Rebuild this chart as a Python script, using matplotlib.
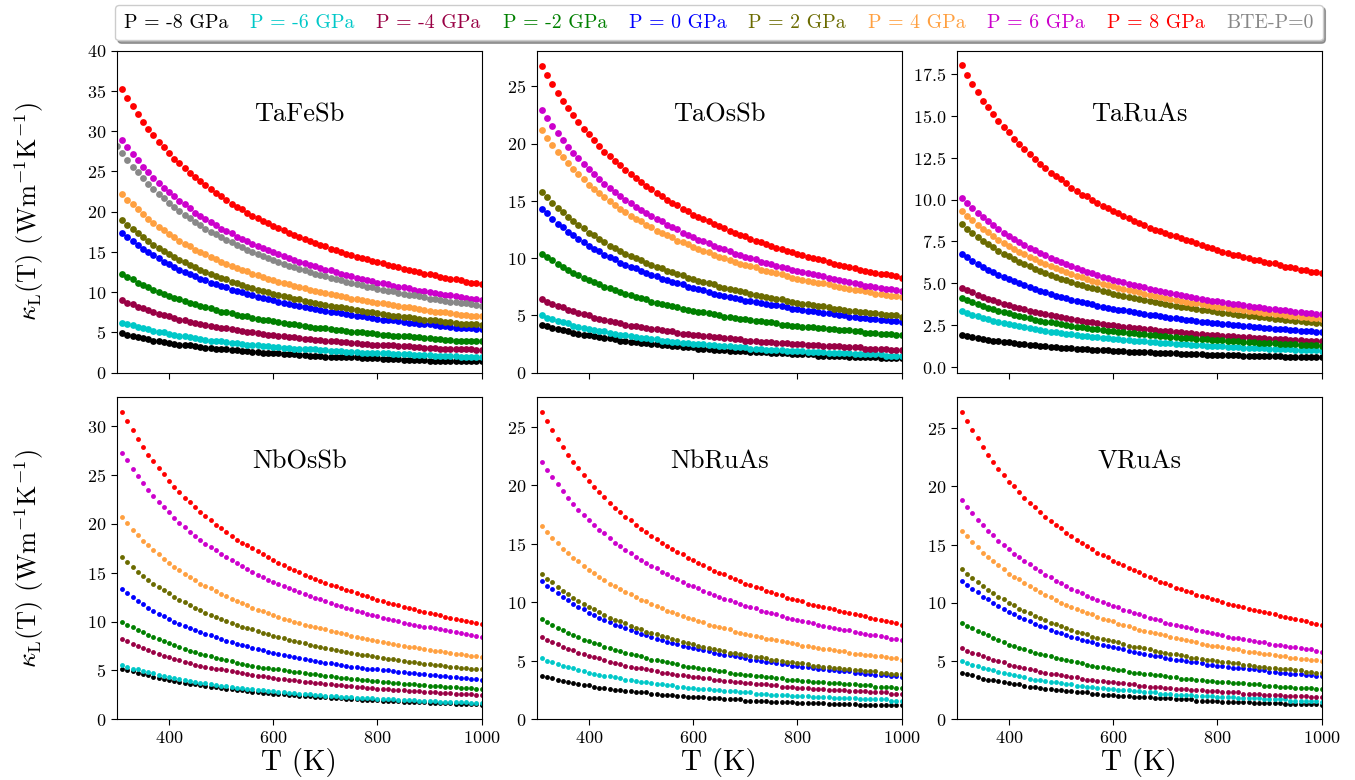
import matplotlib
matplotlib.use("Agg")
import matplotlib.pyplot as plt
from matplotlib.lines import Line2D
import numpy as np

plt.rcParams['font.family'] = ['cmr10', 'DejaVu Serif']
plt.rcParams['mathtext.fontset'] = 'cm'
plt.rcParams['axes.formatter.use_mathtext'] = True
plt.rcParams['axes.unicode_minus'] = False

# ---------------- data ----------------
temps = np.arange(310, 1001, 10)        # K
temps_bte = np.arange(300, 1001, 10)    # K (BTE reference)

legend_labels = ["P = -8 GPa", "P = -6 GPa", "P = -4 GPa", "P = -2 GPa", "P = 0 GPa",
                 "P = 2 GPa", "P = 4 GPa", "P = 6 GPa", "P = 8 GPa", "BTE-P=0"]
series_colors = ["black", "#00c8c8", "#990044", "#008000", "#0000ff",
                 "#6b6b00", "#ffa040", "#cc00cc", "#ff0000", "#888888"]

# TaFeSb
tafesb_m8 = [4.9,4.7,4.6,4.4,4.3,4.2,4.0,3.9,3.8,3.7, 3.6,3.5,3.5,3.4,3.3,3.2,3.1,3.1,3.0,2.9,
             2.9,2.8,2.8,2.7,2.7,2.6,2.6,2.5,2.5,2.4, 2.4,2.3,2.3,2.3,2.2,2.2,2.1,2.1,2.1,2.0,
             2.0,2.0,2.0,1.9,1.9,1.9,1.8,1.8,1.8,1.8, 1.7,1.7,1.7,1.7,1.6,1.6,1.6,1.6,1.6,1.5,
             1.5,1.5,1.5,1.5,1.5,1.4,1.4,1.4,1.4,1.4]
tafesb_m6 = [6.2,6.1,5.9,5.7,5.5,5.4,5.2,5.1,5.0,4.8, 4.7,4.6,4.5,4.4,4.3,4.2,4.1,4.0,4.0,3.9,
             3.8,3.7,3.7,3.6,3.5,3.5,3.4,3.3,3.3,3.2, 3.2,3.1,3.1,3.0,3.0,2.9,2.9,2.9,2.8,2.8,
             2.7,2.7,2.7,2.6,2.6,2.6,2.5,2.5,2.5,2.4, 2.4,2.4,2.3,2.3,2.3,2.3,2.2,2.2,2.2,2.2,
             2.1,2.1,2.1,2.1,2.1,2.0,2.0,2.0,2.0,2.0]
tafesb_m4 = [9.0,8.7,8.5,8.2,8.0,7.8,7.5,7.3,7.2,7.0, 6.8,6.6,6.5,6.3,6.2,6.1,5.9,5.8,5.7,5.6,
             5.5,5.4,5.3,5.2,5.1,5.0,4.9,4.8,4.7,4.7, 4.6,4.5,4.4,4.4,4.3,4.2,4.2,4.1,4.1,4.0,
             3.9,3.9,3.8,3.8,3.7,3.7,3.6,3.6,3.5,3.5, 3.5,3.4,3.4,3.3,3.3,3.3,3.2,3.2,3.1,3.1,
             3.1,3.0,3.0,3.0,2.9,2.9,2.9,2.9,2.8,2.8]
tafesb_m2 = [12.3,11.9,11.6,11.2,10.9,10.6,10.3,10.0,9.8,9.5, 9.3,9.1,8.9,8.7,8.5,8.3,8.1,8.0,7.8,7.6,
             7.5,7.4,7.2,7.1,7.0,6.8,6.7,6.6,6.5,6.4, 6.3,6.2,6.1,6.0,5.9,5.8,5.7,5.6,5.6,5.5,
             5.4,5.3,5.3,5.2,5.1,5.1,5.0,4.9,4.9,4.8, 4.7,4.7,4.6,4.6,4.5,4.5,4.4,4.4,4.3,4.3,
             4.2,4.2,4.1,4.1,4.0,4.0,4.0,3.9,3.9,3.9]
tafesb_p0 = [17.4,16.9,16.3,15.9,15.4,15.0,14.6,14.2,13.8,13.5, 13.1,12.8,12.5,12.2,12.0,11.7,11.5,11.2,11.0,10.8,
             10.6,10.3,10.2,10.0,9.8,9.6,9.4,9.3,9.1,9.0, 8.8,8.7,8.5,8.4,8.3,8.1,8.0,7.9,7.8,7.7,
             7.6,7.5,7.4,7.3,7.2,7.1,7.0,6.9,6.8,6.7, 6.6,6.5,6.5,6.4,6.3,6.2,6.2,6.1,6.0,6.0,
             5.9,5.8,5.8,5.7,5.6,5.6,5.5,5.5,5.4,5.4]
tafesb_p2 = [19.0,18.4,17.9,17.3,16.8,16.4,15.9,15.5,15.1,14.7, 14.4,14.0,13.7,13.4,13.1,12.8,12.5,12.3,12.0,11.8,
             11.6,11.3,11.1,10.9,10.7,10.5,10.3,10.2,10.0,9.8, 9.7,9.5,9.4,9.2,9.1,8.9,8.8,8.7,8.5,8.4,
             8.3,8.2,8.1,8.0,7.9,7.8,7.7,7.6,7.5,7.4, 7.3,7.2,7.1,7.0,6.9,6.9,6.8,6.7,6.6,6.6,
             6.5,6.4,6.3,6.3,6.2,6.1,6.1,6.0,6.0,5.9]
tafesb_p4 = [22.2,21.5,20.9,20.3,19.7,19.1,18.6,18.1,17.7,17.2, 16.8,16.4,16.0,15.7,15.3,15.0,14.7,14.4,14.1,13.8,
             13.5,13.3,13.0,12.8,12.6,12.3,12.1,11.9,11.7,11.5, 11.3,11.2,11.0,10.8,10.6,10.5,10.3,10.2,10.0,9.9,
             9.8,9.6,9.5,9.4,9.2,9.1,9.0,8.9,8.8,8.7, 8.6,8.5,8.4,8.3,8.2,8.1,8.0,7.9,7.8,7.7,
             7.6,7.5,7.5,7.4,7.3,7.2,7.2,7.1,7.0,7.0]
tafesb_p6 = [28.9,28.0,27.2,26.4,25.6,24.9,24.2,23.6,23.0,22.4, 21.9,21.3,20.9,20.4,19.9,19.5,19.1,18.7,18.3,17.9,
             17.6,17.3,16.9,16.6,16.3,16.0,15.7,15.5,15.2,15.0, 14.7,14.5,14.3,14.0,13.8,13.6,13.4,13.2,13.0,12.8,
             12.7,12.5,12.3,12.1,12.0,11.8,11.7,11.5,11.4,11.2, 11.1,11.0,10.8,10.7,10.6,10.5,10.3,10.2,10.1,10.0,
             9.9,9.8,9.7,9.6,9.5,9.4,9.3,9.2,9.1,9.0]
tafesb_p8 = [35.2,34.1,33.1,32.1,31.2,30.3,29.5,28.7,28.0,27.3, 26.6,26.0,25.4,24.8,24.3,23.8,23.3,22.8,22.3,21.9,
             21.4,21.0,20.6,20.3,19.9,19.5,19.2,18.9,18.6,18.2, 18.0,17.7,17.4,17.1,16.9,16.6,16.4,16.1,15.9,15.7,
             15.4,15.2,15.0,14.8,14.6,14.4,14.2,14.1,13.9,13.7, 13.6,13.4,13.2,13.1,12.9,12.8,12.6,12.5,12.3,12.2,
             12.1,11.9,11.8,11.7,11.6,11.5,11.3,11.2,11.1,11.0]
tafesb_bte = [28.2, 27.3,26.4,25.6,24.9,24.2,23.5,22.8,22.2,21.7,21.1, 20.6,20.1,19.6,19.2,18.7,18.3,17.9,17.5,17.2,16.8,
              16.5,16.2,15.9,15.6,15.3,15.0,14.7,14.5,14.2,14.0, 13.8,13.5,13.3,13.1,12.9,12.7,12.5,12.3,12.1,12.0,
              11.8,11.6,11.5,11.3,11.2,11.0,10.9,10.7,10.6,10.4, 10.3,10.2,10.1,9.9,9.8,9.7,9.6,9.5,9.4,9.2,
              9.1,9.0,8.9,8.8,8.8,8.7,8.6,8.5,8.4,8.3]

# TaOsSb
taossb_m8 = [4.2,4.1,3.9,3.8,3.7,3.6,3.5,3.4,3.3,3.3, 3.2,3.1,3.0,3.0,2.9,2.8,2.8,2.7,2.7,2.6,
             2.6,2.5,2.5,2.4,2.4,2.3,2.3,2.2,2.2,2.2, 2.1,2.1,2.1,2.0,2.0,2.0,1.9,1.9,1.9,1.9,
             1.8,1.8,1.8,1.8,1.7,1.7,1.7,1.7,1.6,1.6, 1.6,1.6,1.6,1.5,1.5,1.5,1.5,1.5,1.5,1.4,
             1.4,1.4,1.4,1.4,1.4,1.3,1.3,1.3,1.3,1.3]
taossb_m6 = [5.0,4.8,4.7,4.5,4.4,4.3,4.1,4.0,3.9,3.8, 3.7,3.6,3.6,3.5,3.4,3.3,3.3,3.2,3.1,3.0,
             3.0,2.9,2.9,2.8,2.8,2.7,2.7,2.6,2.6,2.5, 2.5,2.5,2.4,2.4,2.3,2.3,2.3,2.2,2.2,2.2,
             2.1,2.1,2.1,2.0,2.0,2.0,2.0,1.9,1.9,1.9, 1.9,1.8,1.8,1.8,1.8,1.7,1.7,1.7,1.7,1.7,
             1.6,1.6,1.6,1.6,1.6,1.6,1.5,1.5,1.5,1.5]
taossb_m4 = [6.4,6.2,6.0,5.8,5.7,5.5,5.4,5.2,5.1,5.0, 4.8,4.7,4.6,4.5,4.4,4.3,4.2,4.1,4.1,4.0,
             3.9,3.8,3.8,3.7,3.6,3.6,3.5,3.4,3.4,3.3, 3.3,3.2,3.2,3.1,3.1,3.0,3.0,2.9,2.9,2.8,
             2.8,2.8,2.7,2.7,2.7,2.6,2.6,2.6,2.5,2.5, 2.5,2.4,2.4,2.4,2.3,2.3,2.3,2.3,2.2,2.2,
             2.2,2.2,2.1,2.1,2.1,2.1,2.1,2.0,2.0,2.0]
taossb_m2 = [10.4,10.1,9.8,9.5,9.2,9.0,8.7,8.5,8.3,8.1, 7.9,7.7,7.5,7.4,7.2,7.0,6.9,6.8,6.6,6.5,
             6.4,6.2,6.1,6.0,5.9,5.8,5.7,5.6,5.5,5.4, 5.3,5.3,5.2,5.1,5.0,4.9,4.9,4.8,4.7,4.7,
             4.6,4.5,4.5,4.4,4.4,4.3,4.2,4.2,4.1,4.1, 4.0,4.0,4.0,3.9,3.9,3.8,3.8,3.7,3.7,3.7,
             3.6,3.6,3.5,3.5,3.5,3.4,3.4,3.4,3.3,3.3]
taossb_p0 = [14.3,13.9,13.4,13.0,12.7,12.3,12.0,11.7,11.4,11.1, 10.8,10.6,10.3,10.1,9.9,9.6,9.4,9.2,9.1,8.9,
             8.7,8.5,8.4,8.2,8.1,7.9,7.8,7.7,7.5,7.4, 7.3,7.2,7.0,6.9,6.8,6.7,6.6,6.5,6.4,6.3,
             6.3,6.2,6.1,6.0,5.9,5.9,5.8,5.7,5.6,5.6, 5.5,5.4,5.4,5.3,5.2,5.2,5.1,5.0,5.0,4.9,
             4.9,4.8,4.8,4.7,4.7,4.6,4.6,4.5,4.5,4.4]
taossb_p2 = [15.8,15.3,14.8,14.4,14.0,13.6,13.2,12.9,12.6,12.2, 12.0,11.7,11.4,11.1,10.9,10.6,10.4,10.2,10.0,9.8,
             9.6,9.4,9.2,9.1,8.9,8.8,8.6,8.5,8.3,8.2, 8.0,7.9,7.8,7.7,7.5,7.4,7.3,7.2,7.1,7.0,
             6.9,6.8,6.7,6.6,6.5,6.4,6.4,6.3,6.2,6.1, 6.0,6.0,5.9,5.8,5.8,5.7,5.6,5.6,5.5,5.4,
             5.4,5.3,5.3,5.2,5.2,5.1,5.0,5.0,5.0,4.9]
taossb_p4 = [21.2,20.5,19.9,19.3,18.8,18.3,17.8,17.3,16.9,16.4, 16.0,15.7,15.3,15.0,14.6,14.3,14.0,13.7,13.4,13.2,
             12.9,12.7,12.4,12.2,12.0,11.8,11.5,11.4,11.2,11.0, 10.8,10.6,10.5,10.3,10.1,10.0,9.8,9.7,9.5,9.4,
             9.3,9.2,9.0,8.9,8.8,8.7,8.6,8.4,8.3,8.2, 8.1,8.0,7.9,7.8,7.8,7.7,7.6,7.5,7.4,7.3,
             7.2,7.2,7.1,7.0,6.9,6.9,6.8,6.7,6.7,6.6]
taossb_p6 = [22.9,22.2,21.5,20.9,20.3,19.7,19.2,18.7,18.2,17.8, 17.3,16.9,16.5,16.1,15.8,15.4,15.1,14.8,14.5,14.2,
             13.9,13.7,13.4,13.2,12.9,12.7,12.5,12.2,12.0,11.8, 11.6,11.5,11.3,11.1,10.9,10.8,10.6,10.4,10.3,10.1,
             10.0,9.9,9.7,9.6,9.5,9.3,9.2,9.1,9.0,8.9, 8.8,8.7,8.6,8.5,8.4,8.3,8.2,8.1,8.0,7.9,
             7.8,7.7,7.6,7.6,7.5,7.4,7.3,7.3,7.2,7.1]
taossb_p8 = [26.8,26.0,25.2,24.4,23.7,23.1,22.5,21.9,21.3,20.8, 20.3,19.8,19.3,18.9,18.5,18.1,17.7,17.3,17.0,16.6,
             16.3,16.0,15.7,15.4,15.1,14.8,14.6,14.3,14.1,13.8, 13.6,13.4,13.2,13.0,12.8,12.6,12.4,12.2,12.0,11.9,
             11.7,11.5,11.4,11.2,11.1,10.9,10.8,10.6,10.5,10.4, 10.3,10.1,10.0,9.9,9.8,9.7,9.5,9.4,9.3,9.2,
             9.1,9.0,8.9,8.8,8.7,8.6,8.6,8.5,8.4,8.3]

# TaRuAs
taruas_m8 = [1.90,1.84,1.79,1.73,1.68,1.64,1.59,1.55,1.51,1.48, 1.44,1.41,1.37,1.34,1.31,1.29,1.26,1.23,1.21,1.18,
             1.16,1.14,1.12,1.10,1.08,1.06,1.04,1.02,1.01,0.99, 0.97,0.96,0.94,0.93,0.91,0.90,0.89,0.87,0.86,0.85,
             0.84,0.83,0.82,0.81,0.79,0.78,0.77,0.76,0.76,0.75, 0.74,0.73,0.72,0.71,0.70,0.70,0.69,0.68,0.67,0.66,
             0.66,0.65,0.64,0.64,0.63,0.62,0.62,0.61,0.61,0.60]
taruas_m6 = [3.33,3.22,3.13,3.03,2.94,2.86,2.78,2.71,2.64,2.57, 2.51,2.45,2.39,2.33,2.28,2.23,2.18,2.13,2.09,2.05,
             2.01,1.97,1.93,1.89,1.86,1.82,1.79,1.76,1.73,1.70, 1.67,1.64,1.61,1.59,1.56,1.54,1.52,1.49,1.47,1.45,
             1.43,1.41,1.39,1.37,1.35,1.33,1.31,1.30,1.28,1.26, 1.25,1.23,1.21,1.20,1.18,1.17,1.16,1.14,1.13,1.12,
             1.10,1.09,1.08,1.07,1.06,1.04,1.03,1.02,1.01,1.00]
taruas_m4 = [4.74,4.60,4.46,4.33,4.21,4.10,3.99,3.89,3.79,3.70, 3.61,3.53,3.45,3.37,3.30,3.23,3.17,3.10,3.04,2.98,
             2.93,2.87,2.82,2.77,2.72,2.68,2.63,2.59,2.55,2.51, 2.47,2.43,2.39,2.36,2.32,2.29,2.26,2.22,2.19,2.16,
             2.14,2.11,2.08,2.05,2.03,2.00,1.98,1.95,1.93,1.91, 1.89,1.86,1.84,1.82,1.80,1.78,1.76,1.75,1.73,1.71,
             1.69,1.67,1.66,1.64,1.63,1.61,1.59,1.58,1.56,1.55]
taruas_m2 = [4.13,4.00,3.88,3.77,3.66,3.56,3.47,3.37,3.29,3.21, 3.13,3.06,2.99,2.92,2.85,2.79,2.73,2.68,2.62,2.57,
             2.52,2.47,2.43,2.38,2.34,2.30,2.26,2.22,2.18,2.15, 2.11,2.08,2.05,2.02,1.98,1.96,1.93,1.90,1.87,1.85,
             1.82,1.79,1.77,1.75,1.72,1.70,1.68,1.66,1.64,1.62, 1.60,1.58,1.56,1.54,1.52,1.51,1.49,1.47,1.46,1.44,
             1.43,1.41,1.40,1.38,1.37,1.35,1.34,1.33,1.31,1.30]
taruas_p0 = [6.77,6.56,6.36,6.17,6.00,5.83,5.67,5.52,5.38,5.25, 5.12,5.00,4.88,4.77,4.66,4.56,4.47,4.37,4.28,4.20,
             4.12,4.04,3.96,3.89,3.82,3.75,3.68,3.62,3.56,3.50, 3.44,3.39,3.33,3.28,3.23,3.18,3.13,3.09,3.04,3.00,
             2.96,2.92,2.88,2.84,2.80,2.76,2.73,2.69,2.66,2.62, 2.59,2.56,2.53,2.50,2.47,2.44,2.41,2.39,2.36,2.33,
             2.31,2.28,2.26,2.23,2.21,2.19,2.17,2.14,2.12,2.10]
taruas_p2 = [8.53,8.26,8.01,7.78,7.55,7.34,7.15,6.96,6.78,6.61, 6.45,6.29,6.15,6.01,5.87,5.75,5.62,5.51,5.39,5.29,
             5.18,5.08,4.99,4.89,4.81,4.72,4.64,4.56,4.48,4.40, 4.33,4.26,4.19,4.13,4.07,4.00,3.94,3.89,3.83,3.77,
             3.72,3.67,3.62,3.57,3.52,3.48,3.43,3.39,3.34,3.30, 3.26,3.22,3.18,3.14,3.11,3.07,3.04,3.00,2.97,2.93,
             2.90,2.87,2.84,2.81,2.78,2.75,2.72,2.69,2.67,2.64]
taruas_p4 = [9.33,9.04,8.77,8.51,8.27,8.04,7.82,7.61,7.42,7.23, 7.06,6.89,6.73,6.58,6.43,6.29,6.16,6.03,5.91,5.79,
             5.68,5.57,5.46,5.36,5.26,5.17,5.08,4.99,4.91,4.83, 4.75,4.67,4.60,4.52,4.46,4.39,4.32,4.26,4.20,4.14,
             4.08,4.02,3.97,3.92,3.86,3.81,3.76,3.71,3.67,3.62, 3.58,3.53,3.49,3.45,3.41,3.37,3.33,3.29,3.26,3.22,
             3.19,3.15,3.12,3.08,3.05,3.02,2.99,2.96,2.93,2.90]
taruas_p6 = [10.10,9.79,9.49,9.21,8.95,8.70,8.47,8.24,8.03,7.83, 7.64,7.46,7.29,7.12,6.97,6.82,6.67,6.53,6.40,6.27,
             6.15,6.03,5.92,5.81,5.70,5.60,5.51,5.41,5.32,5.23, 5.15,5.06,4.98,4.91,4.83,4.76,4.69,4.62,4.55,4.49,
             4.43,4.36,4.31,4.25,4.19,4.14,4.08,4.03,3.98,3.93, 3.88,3.84,3.79,3.75,3.70,3.66,3.62,3.58,3.54,3.50,
             3.46,3.42,3.39,3.35,3.32,3.28,3.25,3.21,3.18,3.15]
taruas_p8 = [18.0,17.4,16.9,16.4,15.9,15.5,15.1,14.7,14.3,14.0, 13.6,13.3,13.0,12.7,12.4,12.1,11.9,11.6,11.4,11.2,
             11.0,10.7,10.5,10.3,10.2,10.0,9.8,9.6,9.5,9.3, 9.2,9.0,8.9,8.7,8.6,8.5,8.3,8.2,8.1,8.0,
             7.9,7.8,7.7,7.6,7.5,7.4,7.3,7.2,7.1,7.0, 6.9,6.8,6.7,6.7,6.6,6.5,6.4,6.4,6.3,6.2,
             6.2,6.1,6.0,6.0,5.9,5.8,5.8,5.7,5.7,5.6]

# NbOsSb
nbossb_m8 = [5.2,5.0,4.9,4.7,4.6,4.5,4.3,4.2,4.1,4.0, 3.9,3.8,3.7,3.6,3.6,3.5,3.4,3.3,3.3,3.2,
             3.1,3.1,3.0,3.0,2.9,2.8,2.8,2.7,2.7,2.6, 2.6,2.6,2.5,2.5,2.4,2.4,2.4,2.3,2.3,2.3,
             2.2,2.2,2.2,2.1,2.1,2.1,2.0,2.0,2.0,2.0, 1.9,1.9,1.9,1.9,1.8,1.8,1.8,1.8,1.8,1.7,
             1.7,1.7,1.7,1.7,1.6,1.6,1.6,1.6,1.6,1.5]
nbossb_m6 = [5.6,5.4,5.2,5.1,4.9,4.8,4.7,4.5,4.4,4.3, 4.2,4.1,4.0,3.9,3.8,3.7,3.7,3.6,3.5,3.4,
             3.4,3.3,3.2,3.2,3.1,3.1,3.0,3.0,2.9,2.9, 2.8,2.8,2.7,2.7,2.6,2.6,2.6,2.5,2.5,2.4,
             2.4,2.4,2.3,2.3,2.3,2.2,2.2,2.2,2.2,2.1, 2.1,2.1,2.1,2.0,2.0,2.0,2.0,1.9,1.9,1.9,
             1.9,1.8,1.8,1.8,1.8,1.8,1.8,1.7,1.7,1.7]
nbossb_m4 = [8.2,8.0,7.7,7.5,7.3,7.1,6.9,6.7,6.5,6.4, 6.2,6.1,5.9,5.8,5.6,5.5,5.4,5.3,5.2,5.1,
             5.0,4.9,4.8,4.7,4.6,4.5,4.4,4.4,4.3,4.2, 4.1,4.1,4.0,4.0,3.9,3.8,3.8,3.7,3.7,3.6,
             3.6,3.5,3.5,3.4,3.4,3.3,3.3,3.2,3.2,3.1, 3.1,3.1,3.0,3.0,3.0,2.9,2.9,2.9,2.8,2.8,
             2.8,2.7,2.7,2.7,2.6,2.6,2.6,2.6,2.5,2.5]
nbossb_m2 = [10.0,9.7,9.4,9.1,8.9,8.6,8.4,8.2,8.0,7.8, 7.6,7.4,7.2,7.0,6.9,6.7,6.6,6.5,6.3,6.2,
             6.1,6.0,5.8,5.7,5.6,5.5,5.4,5.3,5.3,5.2, 5.1,5.0,4.9,4.8,4.8,4.7,4.6,4.6,4.5,4.4,
             4.4,4.3,4.2,4.2,4.1,4.1,4.0,4.0,3.9,3.9, 3.8,3.8,3.7,3.7,3.6,3.6,3.6,3.5,3.5,3.4,
             3.4,3.4,3.3,3.3,3.3,3.2,3.2,3.2,3.1,3.1]
nbossb_p0 = [13.3,12.9,12.5,12.1,11.8,11.4,11.1,10.8,10.6,10.3, 10.0,9.8,9.6,9.3,9.1,8.9,8.7,8.6,8.4,8.2,
             8.0,7.9,7.7,7.6,7.5,7.3,7.2,7.1,6.9,6.8, 6.7,6.6,6.5,6.4,6.3,6.2,6.1,6.0,5.9,5.8,
             5.8,5.7,5.6,5.5,5.4,5.4,5.3,5.2,5.2,5.1, 5.0,5.0,4.9,4.8,4.8,4.7,4.7,4.6,4.6,4.5,
             4.5,4.4,4.4,4.3,4.3,4.2,4.2,4.1,4.1,4.0]
nbossb_p2 = [16.6,16.1,15.6,15.1,14.7,14.3,13.9,13.5,13.2,12.9, 12.5,12.2,12.0,11.7,11.4,11.2,10.9,10.7,10.5,10.3,
             10.1,9.9,9.7,9.5,9.3,9.2,9.0,8.8,8.7,8.5, 8.4,8.3,8.1,8.0,7.9,7.8,7.6,7.5,7.4,7.3,
             7.2,7.1,7.0,6.9,6.8,6.7,6.6,6.6,6.5,6.4, 6.3,6.2,6.2,6.1,6.0,5.9,5.9,5.8,5.7,5.7,
             5.6,5.6,5.5,5.4,5.4,5.3,5.3,5.2,5.2,5.1]
nbossb_p4 = [20.7,20.1,19.4,18.9,18.3,17.8,17.3,16.9,16.4,16.0, 15.6,15.3,14.9,14.6,14.3,13.9,13.6,13.4,13.1,12.8,
             12.6,12.3,12.1,11.9,11.7,11.4,11.2,11.1,10.9,10.7, 10.5,10.3,10.2,10.0,9.9,9.7,9.6,9.4,9.3,9.2,
             9.0,8.9,8.8,8.7,8.5,8.4,8.3,8.2,8.1,8.0, 7.9,7.8,7.7,7.6,7.5,7.4,7.4,7.3,7.2,7.1,
             7.0,7.0,6.9,6.8,6.7,6.7,6.6,6.5,6.5,6.4]
nbossb_p6 = [27.3,26.5,25.6,24.9,24.2,23.5,22.9,22.3,21.7,21.2, 20.6,20.1,19.7,19.2,18.8,18.4,18.0,17.6,17.3,16.9,
             16.6,16.3,16.0,15.7,15.4,15.1,14.8,14.6,14.3,14.1, 13.9,13.6,13.4,13.2,13.0,12.8,12.6,12.4,12.3,12.1,
             11.9,11.7,11.6,11.4,11.3,11.1,11.0,10.8,10.7,10.6, 10.4,10.3,10.2,10.1,9.9,9.8,9.7,9.6,9.5,9.4,
             9.3,9.2,9.1,9.0,8.9,8.8,8.7,8.6,8.5,8.4]
nbossb_p8 = [31.5,30.5,29.6,28.7,27.9,27.1,26.4,25.7,25.1,24.4, 23.8,23.3,22.7,22.2,21.7,21.2,20.8,20.4,19.9,19.6,
             19.2,18.8,18.4,18.1,17.8,17.5,17.2,16.9,16.6,16.3, 16.0,15.8,15.5,15.3,15.1,14.8,14.6,14.4,14.2,14.0,
             13.8,13.6,13.4,13.2,13.1,12.9,12.7,12.6,12.4,12.2, 12.1,11.9,11.8,11.7,11.5,11.4,11.3,11.1,11.0,10.9,
             10.8,10.7,10.5,10.4,10.3,10.2,10.1,10.0,9.9,9.8]

# NbRuAs
nbruas_m8 = [3.7,3.6,3.5,3.4,3.3,3.2,3.1,3.0,2.9,2.9, 2.8,2.7,2.7,2.6,2.5,2.5,2.4,2.4,2.3,2.3,
             2.3,2.2,2.2,2.1,2.1,2.1,2.0,2.0,1.9,1.9, 1.9,1.9,1.8,1.8,1.8,1.7,1.7,1.7,1.7,1.6,
             1.6,1.6,1.6,1.6,1.5,1.5,1.5,1.5,1.5,1.4, 1.4,1.4,1.4,1.4,1.4,1.3,1.3,1.3,1.3,1.3,
             1.3,1.2,1.2,1.2,1.2,1.2,1.2,1.2,1.2,1.2]
nbruas_m6 = [5.2,5.0,4.9,4.7,4.6,4.5,4.4,4.2,4.1,4.0, 3.9,3.8,3.7,3.7,3.6,3.5,3.4,3.4,3.3,3.2,
             3.2,3.1,3.0,3.0,2.9,2.9,2.8,2.8,2.7,2.7, 2.6,2.6,2.6,2.5,2.5,2.4,2.4,2.4,2.3,2.3,
             2.3,2.2,2.2,2.2,2.1,2.1,2.1,2.1,2.0,2.0, 2.0,2.0,1.9,1.9,1.9,1.9,1.8,1.8,1.8,1.8,
             1.8,1.7,1.7,1.7,1.7,1.7,1.7,1.6,1.6,1.6]
nbruas_m4 = [7.0,6.8,6.6,6.4,6.2,6.0,5.9,5.7,5.6,5.4, 5.3,5.2,5.1,4.9,4.8,4.7,4.6,4.5,4.4,4.4,
             4.3,4.2,4.1,4.0,4.0,3.9,3.8,3.8,3.7,3.6, 3.6,3.5,3.5,3.4,3.4,3.3,3.3,3.2,3.2,3.1,
             3.1,3.0,3.0,3.0,2.9,2.9,2.8,2.8,2.8,2.7, 2.7,2.7,2.6,2.6,2.6,2.5,2.5,2.5,2.5,2.4,
             2.4,2.4,2.4,2.3,2.3,2.3,2.3,2.2,2.2,2.2]
nbruas_m2 = [8.6,8.3,8.1,7.8,7.6,7.4,7.2,7.0,6.8,6.7, 6.5,6.4,6.2,6.1,5.9,5.8,5.7,5.6,5.5,5.4,
             5.2,5.1,5.1,5.0,4.9,4.8,4.7,4.6,4.5,4.5, 4.4,4.3,4.3,4.2,4.1,4.1,4.0,3.9,3.9,3.8,
             3.8,3.7,3.7,3.6,3.6,3.5,3.5,3.4,3.4,3.4, 3.3,3.3,3.2,3.2,3.2,3.1,3.1,3.1,3.0,3.0,
             3.0,2.9,2.9,2.9,2.8,2.8,2.8,2.8,2.7,2.7]
nbruas_p0 = [11.8,11.4,11.1,10.8,10.5,10.2,9.9,9.6,9.4,9.1, 8.9,8.7,8.5,8.3,8.1,8.0,7.8,7.6,7.5,7.3,
             7.2,7.0,6.9,6.8,6.6,6.5,6.4,6.3,6.2,6.1, 6.0,5.9,5.8,5.7,5.6,5.5,5.5,5.4,5.3,5.2,
             5.1,5.1,5.0,4.9,4.9,4.8,4.7,4.7,4.6,4.6, 4.5,4.5,4.4,4.3,4.3,4.2,4.2,4.1,4.1,4.1,
             4.0,4.0,3.9,3.9,3.8,3.8,3.8,3.7,3.7,3.6]
nbruas_p2 = [12.4,12.0,11.7,11.3,11.0,10.7,10.4,10.1,9.9,9.6, 9.4,9.2,8.9,8.7,8.5,8.4,8.2,8.0,7.8,7.7,
             7.5,7.4,7.3,7.1,7.0,6.9,6.8,6.6,6.5,6.4, 6.3,6.2,6.1,6.0,5.9,5.8,5.7,5.7,5.6,5.5,
             5.4,5.3,5.3,5.2,5.1,5.1,5.0,4.9,4.9,4.8, 4.8,4.7,4.6,4.6,4.5,4.5,4.4,4.4,4.3,4.3,
             4.2,4.2,4.1,4.1,4.1,4.0,4.0,3.9,3.9,3.9]
nbruas_p4 = [16.5,16.0,15.5,15.1,14.6,14.2,13.8,13.5,13.1,12.8, 12.5,12.2,11.9,11.6,11.4,11.1,10.9,10.7,10.5,10.2,
             10.1,9.9,9.7,9.5,9.3,9.2,9.0,8.8,8.7,8.6, 8.4,8.3,8.1,8.0,7.9,7.8,7.7,7.5,7.4,7.3,
             7.2,7.1,7.0,6.9,6.9,6.8,6.7,6.6,6.5,6.4, 6.3,6.3,6.2,6.1,6.0,6.0,5.9,5.8,5.8,5.7,
             5.6,5.6,5.5,5.5,5.4,5.4,5.3,5.2,5.2,5.1]
nbruas_p6 = [22.0,21.3,20.7,20.1,19.5,18.9,18.4,17.9,17.5,17.0, 16.6,16.2,15.9,15.5,15.1,14.8,14.5,14.2,13.9,13.6,
             13.4,13.1,12.9,12.6,12.4,12.2,12.0,11.7,11.5,11.4, 11.2,11.0,10.8,10.6,10.5,10.3,10.2,10.0,9.9,9.7,
             9.6,9.5,9.3,9.2,9.1,9.0,8.8,8.7,8.6,8.5, 8.4,8.3,8.2,8.1,8.0,7.9,7.8,7.7,7.6,7.6,
             7.5,7.4,7.3,7.2,7.2,7.1,7.0,6.9,6.9,6.8]
nbruas_p8 = [26.3,25.5,24.7,24.0,23.3,22.6,22.0,21.5,20.9,20.4, 19.9,19.4,19.0,18.5,18.1,17.7,17.3,17.0,16.6,16.3,
             16.0,15.7,15.4,15.1,14.8,14.6,14.3,14.1,13.8,13.6, 13.4,13.2,12.9,12.7,12.5,12.4,12.2,12.0,11.8,11.6,
             11.5,11.3,11.2,11.0,10.9,10.7,10.6,10.4,10.3,10.2, 10.1,9.9,9.8,9.7,9.6,9.5,9.4,9.3,9.2,9.1,
             9.0,8.9,8.8,8.7,8.6,8.5,8.4,8.3,8.2,8.1]

# VRuAs
vruas_m8 = [4.0,3.9,3.8,3.6,3.5,3.4,3.4,3.3,3.2,3.1, 3.0,3.0,2.9,2.8,2.8,2.7,2.6,2.6,2.5,2.5,
            2.4,2.4,2.3,2.3,2.3,2.2,2.2,2.1,2.1,2.1, 2.0,2.0,2.0,1.9,1.9,1.9,1.9,1.8,1.8,1.8,
            1.8,1.7,1.7,1.7,1.7,1.6,1.6,1.6,1.6,1.6, 1.5,1.5,1.5,1.5,1.5,1.5,1.4,1.4,1.4,1.4,
            1.4,1.4,1.3,1.3,1.3,1.3,1.3,1.3,1.3,1.2]
vruas_m6 = [5.0,4.8,4.7,4.6,4.4,4.3,4.2,4.1,4.0,3.9, 3.8,3.7,3.6,3.5,3.4,3.4,3.3,3.2,3.2,3.1,
            3.0,3.0,2.9,2.9,2.8,2.8,2.7,2.7,2.6,2.6, 2.5,2.5,2.5,2.4,2.4,2.3,2.3,2.3,2.2,2.2,
            2.2,2.1,2.1,2.1,2.1,2.0,2.0,2.0,2.0,1.9, 1.9,1.9,1.9,1.8,1.8,1.8,1.8,1.8,1.7,1.7,
            1.7,1.7,1.7,1.6,1.6,1.6,1.6,1.6,1.6,1.5]
vruas_m4 = [6.1,5.9,5.7,5.6,5.4,5.3,5.1,5.0,4.9,4.7, 4.6,4.5,4.4,4.3,4.2,4.1,4.0,3.9,3.9,3.8,
            3.7,3.6,3.6,3.5,3.4,3.4,3.3,3.3,3.2,3.2, 3.1,3.1,3.0,3.0,2.9,2.9,2.8,2.8,2.8,2.7,
            2.7,2.6,2.6,2.6,2.5,2.5,2.5,2.4,2.4,2.4, 2.3,2.3,2.3,2.3,2.2,2.2,2.2,2.2,2.1,2.1,
            2.1,2.1,2.0,2.0,2.0,2.0,2.0,1.9,1.9,1.9]
vruas_m2 = [8.3,8.0,7.8,7.6,7.4,7.2,7.0,6.8,6.6,6.4, 6.3,6.1,6.0,5.9,5.7,5.6,5.5,5.4,5.3,5.2,
            5.1,5.0,4.9,4.8,4.7,4.6,4.5,4.5,4.4,4.3, 4.2,4.2,4.1,4.0,4.0,3.9,3.9,3.8,3.8,3.7,
            3.6,3.6,3.5,3.5,3.5,3.4,3.4,3.3,3.3,3.2, 3.2,3.2,3.1,3.1,3.1,3.0,3.0,3.0,2.9,2.9,
            2.9,2.8,2.8,2.8,2.7,2.7,2.7,2.7,2.6,2.6]
vruas_p0 = [11.9,11.5,11.2,10.9,10.5,10.3,10.0,9.7,9.5,9.2, 9.0,8.8,8.6,8.4,8.2,8.0,7.9,7.7,7.5,7.4,
            7.2,7.1,7.0,6.8,6.7,6.6,6.5,6.4,6.3,6.2, 6.1,6.0,5.9,5.8,5.7,5.6,5.5,5.4,5.4,5.3,
            5.2,5.1,5.1,5.0,4.9,4.9,4.8,4.7,4.7,4.6, 4.6,4.5,4.4,4.4,4.4,4.3,4.3,4.2,4.2,4.1,
            4.1,4.0,4.0,3.9,3.9,3.9,3.8,3.8,3.7,3.7]
vruas_p2 = [12.9,12.5,12.1,11.8,11.4,11.1,10.8,10.5,10.3,10.0, 9.8,9.5,9.3,9.1,8.9,8.7,8.5,8.3,8.2,8.0,
            7.8,7.7,7.5,7.4,7.3,7.1,7.0,6.9,6.8,6.7, 6.6,6.5,6.3,6.2,6.2,6.1,6.0,5.9,5.8,5.7,
            5.6,5.6,5.5,5.4,5.3,5.3,5.2,5.1,5.1,5.0, 4.9,4.9,4.8,4.8,4.7,4.7,4.6,4.5,4.5,4.4,
            4.4,4.3,4.3,4.3,4.2,4.2,4.1,4.1,4.0,4.0]
vruas_p4 = [16.2,15.7,15.2,14.8,14.3,13.9,13.6,13.2,12.9,12.5, 12.2,12.0,11.7,11.4,11.2,10.9,10.7,10.5,10.2,10.0,
            9.8,9.6,9.5,9.3,9.1,9.0,8.8,8.6,8.5,8.4, 8.2,8.1,8.0,7.8,7.7,7.6,7.5,7.4,7.3,7.2,
            7.1,7.0,6.9,6.8,6.7,6.6,6.5,6.4,6.3,6.3, 6.2,6.1,6.0,6.0,5.9,5.8,5.8,5.7,5.6,5.6,
            5.5,5.4,5.4,5.3,5.3,5.2,5.2,5.1,5.1,5.0]
vruas_p6 = [18.8,18.2,17.7,17.1,16.7,16.2,15.8,15.3,15.0,14.6, 14.2,13.9,13.6,13.3,13.0,12.7,12.4,12.2,11.9,11.7,
            11.4,11.2,11.0,10.8,10.6,10.4,10.2,10.1,9.9,9.7, 9.6,9.4,9.3,9.1,9.0,8.9,8.7,8.6,8.5,8.3,
            8.2,8.1,8.0,7.9,7.8,7.7,7.6,7.5,7.4,7.3, 7.2,7.1,7.0,7.0,6.9,6.8,6.7,6.6,6.6,6.5,
            6.4,6.4,6.3,6.2,6.2,6.1,6.0,6.0,5.9,5.8]
vruas_p8 = [26.4,25.6,24.8,24.1,23.4,22.7,22.1,21.5,21.0,20.4, 20.0,19.5,19.0,18.6,18.2,17.8,17.4,17.0,16.7,16.4,
            16.0,15.7,15.4,15.1,14.9,14.6,14.3,14.1,13.9,13.6, 13.4,13.2,13.0,12.8,12.6,12.4,12.2,12.0,11.8,11.7,
            11.5,11.3,11.2,11.0,10.9,10.7,10.6,10.5,10.3,10.2, 10.1,9.9,9.8,9.7,9.6,9.5,9.4,9.3,9.2,9.1,
            9.0,8.9,8.8,8.7,8.6,8.5,8.4,8.3,8.2,8.1]

materials = ["TaFeSb", "TaOsSb", "TaRuAs", "NbOsSb", "NbRuAs", "VRuAs"]
panel_series = [
    [tafesb_m8, tafesb_m6, tafesb_m4, tafesb_m2, tafesb_p0, tafesb_p2, tafesb_p4, tafesb_p6, tafesb_p8],
    [taossb_m8, taossb_m6, taossb_m4, taossb_m2, taossb_p0, taossb_p2, taossb_p4, taossb_p6, taossb_p8],
    [taruas_m8, taruas_m6, taruas_m4, taruas_m2, taruas_p0, taruas_p2, taruas_p4, taruas_p6, taruas_p8],
    [nbossb_m8, nbossb_m6, nbossb_m4, nbossb_m2, nbossb_p0, nbossb_p2, nbossb_p4, nbossb_p6, nbossb_p8],
    [nbruas_m8, nbruas_m6, nbruas_m4, nbruas_m2, nbruas_p0, nbruas_p2, nbruas_p4, nbruas_p6, nbruas_p8],
    [vruas_m8, vruas_m6, vruas_m4, vruas_m2, vruas_p0, vruas_p2, vruas_p4, vruas_p6, vruas_p8],
]
y_limits = [(0, 40), (0, 28.1), (-0.32, 18.87), (0, 33.0), (0, 27.56), (0, 27.66)]

# ---------------- figure ----------------
W, H = 1355, 780
fig = plt.figure(figsize=(W / 100, H / 100), dpi=100)

col_left = [116.9, 536.7, 956.7]
ax_w = 364.8
row_top = [50.7, 397.0]
row_bot = [372.7, 719.3]

axes = []
for r in range(2):
    for c in range(3):
        ax = fig.add_axes([col_left[c] / W, 1 - row_bot[r] / H, ax_w / W, (row_bot[r] - row_top[r]) / H])
        axes.append(ax)

for k, ax in enumerate(axes):
    top_row = k < 3
    ms = 4.9 if top_row else 3.5
    for vals, col in zip(panel_series[k], series_colors[:9]):
        ax.plot(temps, vals, linestyle='none', marker='o', ms=ms, mew=0, color=col)
    if k == 0:
        ax.plot(temps_bte, tafesb_bte, linestyle='none', marker='o', ms=ms, mew=0, color=series_colors[9])
    ax.set_xlim(300, 1000)
    ax.set_ylim(*y_limits[k])
    ax.set_xticks([400, 600, 800, 1000])
    ax.tick_params(labelsize=13, direction='out', length=4, width=0.8)
    ax.text(0.5, 0.80, materials[k], transform=ax.transAxes, fontsize=19,
            ha='center', va='center')
    if top_row:
        ax.tick_params(labelbottom=False)
    else:
        ax.set_xlabel("T (K)", fontsize=21, labelpad=2)
    if k % 3 == 0:
        ax.set_ylabel(r"$\kappa_{\rm L}$(T) (Wm$^{-1}$K$^{-1}$)", fontsize=19)
        ax.yaxis.set_label_coords(-0.195, 0.5)

handles = [Line2D([], [], linestyle='none') for _ in legend_labels]
leg = fig.legend(handles, legend_labels, loc='upper center', bbox_to_anchor=(0.5305, 0.994),
                 borderaxespad=0.0, ncol=10, handlelength=0, handletextpad=0, columnspacing=1.1,
                 fontsize=14.3, frameon=True, fancybox=True, shadow=True, borderpad=0.45)
for txt, col in zip(leg.get_texts(), series_colors):
    txt.set_color(col)

fig.savefig("out.png", dpi=100)
